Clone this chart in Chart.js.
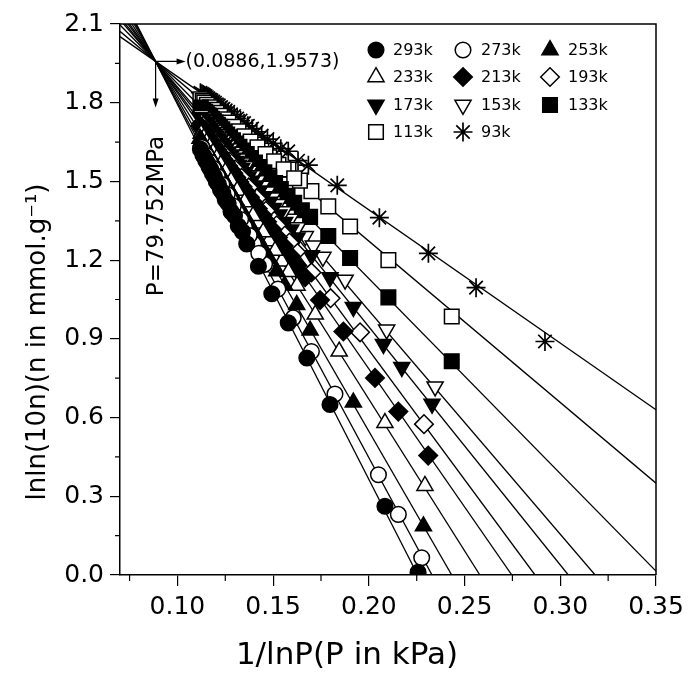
<!DOCTYPE html>
<html><head><meta charset="utf-8">
<script src="https://cdn.jsdelivr.net/npm/chart.js@4.4.1/dist/chart.umd.min.js"></script>
<style>html,body{margin:0;padding:0;background:#fff;}#wrap{width:688px;height:675px;}</style>
</head><body><div id="wrap"><canvas id="c" width="688" height="675"></canvas></div>
<script>
// ---- data ----
const seriesNames = ['293k','273k','253k','233k','213k','193k','173k','153k','133k','113k','93k'];

const x293 = [0.2257,0.2084,0.1797,0.1676,0.1579,0.1493,0.1423,0.1362,0.1318,0.1280,0.1250,0.1225,0.1203,0.1183,0.1165,0.1148,0.1133,
              0.1120,0.1140,0.1157,0.1174,0.1193,0.1214,0.1237,0.1265,0.1298,0.1340];
const y293 = [0.010,0.262,0.650,0.827,0.961,1.072,1.177,1.262,1.330,1.385,1.430,1.468,1.500,1.530,1.556,1.580,1.601,
              1.623,1.594,1.570,1.546,1.519,1.489,1.456,1.416,1.369,1.308];
const x273 = [0.2276,0.2154,0.2050,0.1823,0.1700,0.1605,0.1525,0.1455,0.1398,0.1350,0.1310,0.1275,0.1245,0.1220,0.1197,0.1177,0.1160,0.1143,
              0.1128,0.1150,0.1168,0.1187,0.1208,0.1232,0.1260,0.1292,0.1330,0.1375,0.1425];
const y273 = [0.066,0.231,0.382,0.690,0.852,0.980,1.090,1.184,1.262,1.327,1.381,1.429,1.469,1.503,1.534,1.561,1.584,1.607,
              1.629,1.599,1.575,1.549,1.520,1.488,1.450,1.406,1.355,1.294,1.226];
const x253 = [0.2285,0.1919,0.1693,0.1623,0.1519,0.1450,0.1395,0.1348,0.1308,0.1273,0.1243,0.1217,0.1195,0.1175,0.1157,0.1140,0.1125,
              0.1118,0.1132,0.1148,0.1166,0.1186,0.1206,0.1230,0.1258,0.1290,0.1328,0.1370,0.1420,0.1480,0.1560];
const y253 = [0.186,0.658,0.932,1.030,1.158,1.243,1.313,1.373,1.423,1.467,1.505,1.538,1.566,1.591,1.614,1.636,1.655,
              1.663,1.646,1.626,1.603,1.577,1.552,1.522,1.486,1.446,1.398,1.345,1.281,1.206,1.104];
const x233 = [0.2293,0.2084,0.1845,0.1720,0.1625,0.1545,0.1478,0.1420,0.1372,0.1330,0.1295,0.1265,0.1238,0.1215,0.1195,0.1177,0.1160,0.1145,
              0.1124,0.1138,0.1152,0.1168,0.1186,0.1205,0.1226,0.1250,0.1280,0.1312,0.1350,0.1395,0.1448,0.1510,0.1580];
const y233 = [0.340,0.580,0.852,0.993,1.103,1.195,1.273,1.340,1.395,1.444,1.484,1.519,1.550,1.577,1.600,1.620,1.640,1.657,
              1.682,1.666,1.649,1.631,1.610,1.588,1.564,1.536,1.502,1.465,1.421,1.369,1.307,1.236,1.155];
const x213 = [0.2310,0.2154,0.2032,0.1867,0.1745,0.1667,0.1590,0.1525,0.1468,0.1420,0.1378,0.1340,0.1307,0.1278,0.1252,0.1228,0.1207,0.1188,0.1170,0.1153,0.1138,
              0.1120,0.1130,0.1145,0.1161,0.1179,0.1197,0.1217,0.1240,0.1265,0.1292,0.1323,0.1358,0.1398,0.1444,0.1496,0.1555,0.1625];
const y213 = [0.455,0.623,0.751,0.928,1.048,1.135,1.217,1.286,1.346,1.396,1.440,1.480,1.515,1.545,1.573,1.598,1.620,1.640,1.659,1.677,1.693,
              1.712,1.701,1.685,1.668,1.650,1.631,1.610,1.585,1.559,1.531,1.498,1.461,1.419,1.371,1.316,1.254,1.180];
const x193 = [0.2288,0.1954,0.1800,0.1700,0.1620,0.1550,0.1490,0.1438,0.1393,0.1353,0.1318,0.1288,0.1260,0.1235,0.1213,0.1193,0.1175,0.1158,0.1142,
              0.1125,0.1134,0.1150,0.1166,0.1184,0.1203,0.1224,0.1247,0.1273,0.1302,0.1335,0.1372,0.1414,0.1462,0.1518,0.1585];
const y193 = [0.575,0.925,1.055,1.153,1.232,1.302,1.361,1.412,1.457,1.496,1.531,1.560,1.588,1.613,1.634,1.654,1.672,1.689,1.704,
              1.721,1.712,1.697,1.681,1.663,1.644,1.623,1.601,1.575,1.546,1.514,1.477,1.436,1.388,1.333,1.267];
const x173 = [0.2330,0.2172,0.2076,0.1919,0.1797,0.1700,0.1625,0.1560,0.1502,0.1452,0.1408,0.1370,0.1335,0.1305,0.1277,0.1252,0.1230,0.1210,0.1192,0.1175,0.1160,0.1145,
              0.1120,0.1130,0.1140,0.1152,0.1167,0.1183,0.1200,0.1220,0.1242,0.1265,0.1290,0.1320,0.1352,0.1388,0.1428,0.1476,0.1530,0.1592];
const y173 = [0.652,0.792,0.880,1.021,1.134,1.218,1.286,1.345,1.398,1.443,1.483,1.518,1.550,1.577,1.602,1.625,1.645,1.663,1.679,1.695,1.708,1.722,
              1.745,1.736,1.727,1.716,1.702,1.688,1.672,1.654,1.634,1.613,1.590,1.563,1.534,1.502,1.465,1.422,1.373,1.316];
const x153 = [0.2346,0.2093,0.1876,0.1760,0.1668,0.1590,0.1525,0.1468,0.1418,0.1375,0.1338,0.1305,0.1275,0.1248,0.1225,0.1203,0.1183,0.1165,0.1148,
              0.1125,0.1137,0.1156,0.1174,0.1193,0.1214,0.1237,0.1261,0.1290,0.1320,0.1356,0.1396,0.1442,0.1495,0.1556,0.1628,0.1710];
const y153 = [0.718,0.935,1.125,1.212,1.291,1.357,1.413,1.461,1.504,1.540,1.572,1.600,1.626,1.649,1.668,1.687,1.704,1.720,1.734,
              1.754,1.743,1.727,1.712,1.696,1.678,1.658,1.638,1.613,1.587,1.557,1.523,1.483,1.438,1.386,1.325,1.255];
const x133 = [0.2433,0.2102,0.1902,0.1788,0.1693,0.1610,0.1540,0.1480,0.1428,0.1382,0.1342,0.1307,0.1275,0.1247,0.1222,0.1200,0.1180,0.1162,0.1145,
              0.1122,0.1135,0.1153,0.1171,0.1190,0.1211,0.1234,0.1260,0.1290,0.1324,0.1362,0.1405,0.1454,0.1510,0.1575,0.1650];
const y133 = [0.815,1.058,1.208,1.292,1.365,1.419,1.471,1.516,1.555,1.589,1.618,1.644,1.668,1.689,1.708,1.724,1.739,1.752,1.765,
              1.782,1.772,1.759,1.746,1.731,1.716,1.699,1.679,1.657,1.632,1.604,1.572,1.535,1.494,1.445,1.390];
const x113 = [0.2433,0.2102,0.1902,0.1788,0.1700,0.1640,0.1580,0.1528,0.1480,0.1438,0.1400,0.1365,0.1333,0.1305,0.1278,0.1255,0.1233,0.1213,0.1195,0.1178,0.1162,0.1147,
              0.1120,0.1132,0.1140,0.1154,0.1170,0.1186,0.1204,0.1223,0.1244,0.1266,0.1292,0.1319,0.1350,0.1382,0.1418,0.1460,0.1505,0.1555,0.1610];
const y113 = [0.985,1.200,1.328,1.405,1.463,1.503,1.545,1.563,1.592,1.618,1.641,1.663,1.682,1.700,1.716,1.730,1.744,1.756,1.767,1.778,1.788,1.797,
              1.813,1.806,1.801,1.792,1.783,1.773,1.762,1.750,1.737,1.724,1.708,1.691,1.672,1.652,1.630,1.604,1.577,1.546,1.512];
const x93 = [0.2920,0.2560,0.2311,0.2055,0.1835,0.1684,0.1579,0.1500,0.1440,0.1390,0.1348,0.1312,0.1280,0.1252,0.1228,0.1206,0.1187,0.1170,0.1154,0.1140,
             0.1120,0.1128,0.1134,0.1147,0.1162,0.1178,0.1196,0.1216,0.1240,0.1265,0.1296,0.1330,0.1368,0.1414,0.1470,0.1540,0.1630];
const y93 = [0.890,1.095,1.226,1.362,1.485,1.562,1.615,1.645,1.675,1.701,1.722,1.740,1.756,1.771,1.783,1.794,1.804,1.812,1.821,1.828,
             1.838,1.834,1.831,1.825,1.817,1.809,1.800,1.790,1.777,1.765,1.749,1.732,1.712,1.689,1.661,1.625,1.579];

// fitted lines (start at x = 0.07, end at the x-axis or the right edge)
const fitStartX = 0.07;
const fitStartY = [2.223,2.209,2.193,2.172,2.153,2.141,2.126,2.116,2.096,2.072,2.052];
const fitEndX   = [0.2255,0.233,0.2433,0.258,0.2747,0.2868,0.3042,0.3182,0.35,0.35,0.35];
const fitEndY   = [0,0,0,0,0,0,0,0,0.015,0.350,0.630];

// axes
const xTickValues = [0.10,0.15,0.20,0.25,0.30,0.35];
const xMinorTicks = [0.075,0.125,0.175,0.225,0.275,0.325];
const yTickValues = [0.0,0.3,0.6,0.9,1.2,1.5,1.8,2.1];
const yMinorTicks = [0.15,0.45,0.75,1.05,1.35,1.65,1.95];
const xAxisTitle = '1/lnP(P in kPa)';
const yAxisTitle = 'lnln(10n)(n in mmol.g\u207B\u00B9)';
const crossPoint = {x:0.0886, y:1.9573};
const crossLabel = '(0.0886,1.9573)';
const pressureLabel = 'P=79.752MPa';

// ---- styles ----
const allX = [x293,x273,x253,x233,x213,x193,x173,x153,x133,x113,x93];
const allY = [y293,y273,y253,y233,y213,y193,y173,y153,y133,y113,y93];
const markerStyle = [
  {ps:'circle', r:7.8, fill:true, rot:0},
  {ps:'circle', r:7.8, fill:false, rot:0},
  {ps:'triangle', r:9.3, fill:true, rot:0},
  {ps:'triangle', r:9.3, fill:false, rot:0},
  {ps:'rectRot', r:9.3, fill:true, rot:0},
  {ps:'rectRot', r:9.3, fill:false, rot:0},
  {ps:'triangle', r:9.3, fill:true, rot:180},
  {ps:'triangle', r:9.3, fill:false, rot:180},
  {ps:'rect', r:10.3, fill:true, rot:0},
  {ps:'rect', r:10.3, fill:false, rot:0},
  {ps:'star', r:9.5, fill:false, rot:0}
];

const datasets = [];
seriesNames.forEach((name, i) => {
  const m = markerStyle[i];
  datasets.push({
    label: name,
    data: allX[i].map((x, k) => ({x, y: allY[i][k]})),
    pointStyle: m.ps, pointRadius: m.r, pointRotation: m.rot,
    backgroundColor: m.fill ? '#000' : '#fff',
    borderColor: '#000', borderWidth: m.ps === 'star' ? 1.7 : 1.5,
    showLine: false, order: 1
  });
});
seriesNames.forEach((name, i) => {
  datasets.push({
    label: 'fit ' + name,
    data: [{x: fitStartX, y: fitStartY[i]}, {x: fitEndX[i], y: fitEndY[i]}],
    showLine: true, pointRadius: 0, borderColor: '#000', borderWidth: 1.3,
    fill: false, order: 5
  });
});

const FONT = '"DejaVu Sans", "Liberation Sans", Arial, sans-serif';

const framePlugin = {
  id: 'frame',
  afterDraw(chart) {
    const {ctx, chartArea: a, scales: {x, y}} = chart;
    ctx.save();
    ctx.strokeStyle = '#000';
    ctx.lineWidth = 1.5;
    ctx.beginPath();
    ctx.moveTo(a.left, a.top); ctx.lineTo(a.right, a.top); ctx.lineTo(a.right, a.bottom);
    ctx.stroke();
    // minor ticks
    ctx.lineWidth = 1.2;
    ctx.beginPath();
    xMinorTicks.forEach(v => { const p = x.getPixelForValue(v); ctx.moveTo(p, a.bottom); ctx.lineTo(p, a.bottom + 6); });
    yMinorTicks.forEach(v => { const p = y.getPixelForValue(v); ctx.moveTo(a.left - 5, p); ctx.lineTo(a.left, p); });
    ctx.stroke();

    // axis titles (centred on the figure)
    ctx.fillStyle = '#000';
    ctx.font = '31px ' + FONT;
    ctx.textAlign = 'center'; ctx.textBaseline = 'middle';
    ctx.fillText(xAxisTitle, 347, 656);
    ctx.save();
    ctx.translate(38, 342);
    ctx.rotate(-Math.PI / 2);
    ctx.font = '26px ' + FONT;
    ctx.fillText(yAxisTitle, 0, 0);
    ctx.restore();

    // annotation
    const cx = x.getPixelForValue(crossPoint.x), cy = y.getPixelForValue(crossPoint.y);
    ctx.lineWidth = 1.2;
    ctx.beginPath();
    ctx.moveTo(cx, cy); ctx.lineTo(cx + 24, cy);
    ctx.moveTo(cx, cy); ctx.lineTo(cx, cy + 40);
    ctx.stroke();
    ctx.beginPath();
    ctx.moveTo(cx + 30, cy); ctx.lineTo(cx + 21, cy - 3); ctx.lineTo(cx + 21, cy + 3); ctx.closePath();
    ctx.moveTo(cx, cy + 46); ctx.lineTo(cx - 3, cy + 37); ctx.lineTo(cx + 3, cy + 37); ctx.closePath();
    ctx.fill();
    ctx.font = '19px ' + FONT;
    ctx.textAlign = 'left';
    ctx.fillText(crossLabel, cx + 30, cy + 1);
    ctx.save();
    ctx.translate(cx + 1, 216);
    ctx.rotate(-Math.PI / 2);
    ctx.textAlign = 'center';
    ctx.font = '23px ' + FONT;
    ctx.fillText(pressureLabel, 0, 0);
    ctx.restore();

    // legend
    const colMarkX = [376, 463, 550], colTextX = [393, 481, 568];
    const rowY = [50, 77, 105, 132];
    ctx.font = '16px ' + FONT;
    ctx.textAlign = 'left'; ctx.textBaseline = 'middle';
    seriesNames.forEach((name, i) => {
      const r = Math.floor(i / 3), c = i % 3;
      const m = markerStyle[i];
      ctx.save();
      ctx.fillStyle = m.fill ? '#000' : '#fff';
      ctx.strokeStyle = '#000';
      ctx.lineWidth = m.ps === 'star' ? 1.7 : 1.5;
      Chart.helpers.drawPoint(ctx, {pointStyle: m.ps, radius: m.r, rotation: m.rot, borderWidth: ctx.lineWidth}, colMarkX[c], rowY[r]);
      ctx.restore();
      ctx.fillStyle = '#000';
      ctx.fillText(name, colTextX[c], rowY[r] + 1);
    });
    ctx.restore();
  }
};

new Chart(document.getElementById('c'), {
  type: 'scatter',
  data: {datasets},
  options: {
    responsive: false, animation: false, events: [],
    layout: {padding: {left: 0, right: 32, top: 24, bottom: 0}},
    plugins: {legend: {display: false}, tooltip: {enabled: false}},
    scales: {
      x: {
        type: 'linear', min: 0.07, max: 0.35,
        afterBuildTicks: s => { s.ticks = xTickValues.map(v => ({value: v})); },
        afterFit: s => { s.height = 100; },
        ticks: {color: '#000', font: {family: FONT, size: 25, lineHeight: 1.5}, padding: 3,
                callback: v => Number(v).toFixed(2), maxRotation: 0, autoSkip: false},
        grid: {drawOnChartArea: false, drawTicks: true, tickLength: 11, color: '#000', lineWidth: 1.2},
        border: {display: true, color: '#000', width: 1.5}
      },
      y: {
        type: 'linear', min: 0, max: 2.1,
        afterBuildTicks: s => { s.ticks = yTickValues.map(v => ({value: v})); },
        afterFit: s => { s.width = 120; },
        ticks: {color: '#000', font: {family: FONT, size: 25}, padding: 6,
                callback: v => Number(v).toFixed(1), autoSkip: false},
        grid: {drawOnChartArea: false, drawTicks: true, tickLength: 10, color: '#000', lineWidth: 1.2},
        border: {display: true, color: '#000', width: 1.5}
      }
    }
  },
  plugins: [framePlugin]
});
</script></body></html>
